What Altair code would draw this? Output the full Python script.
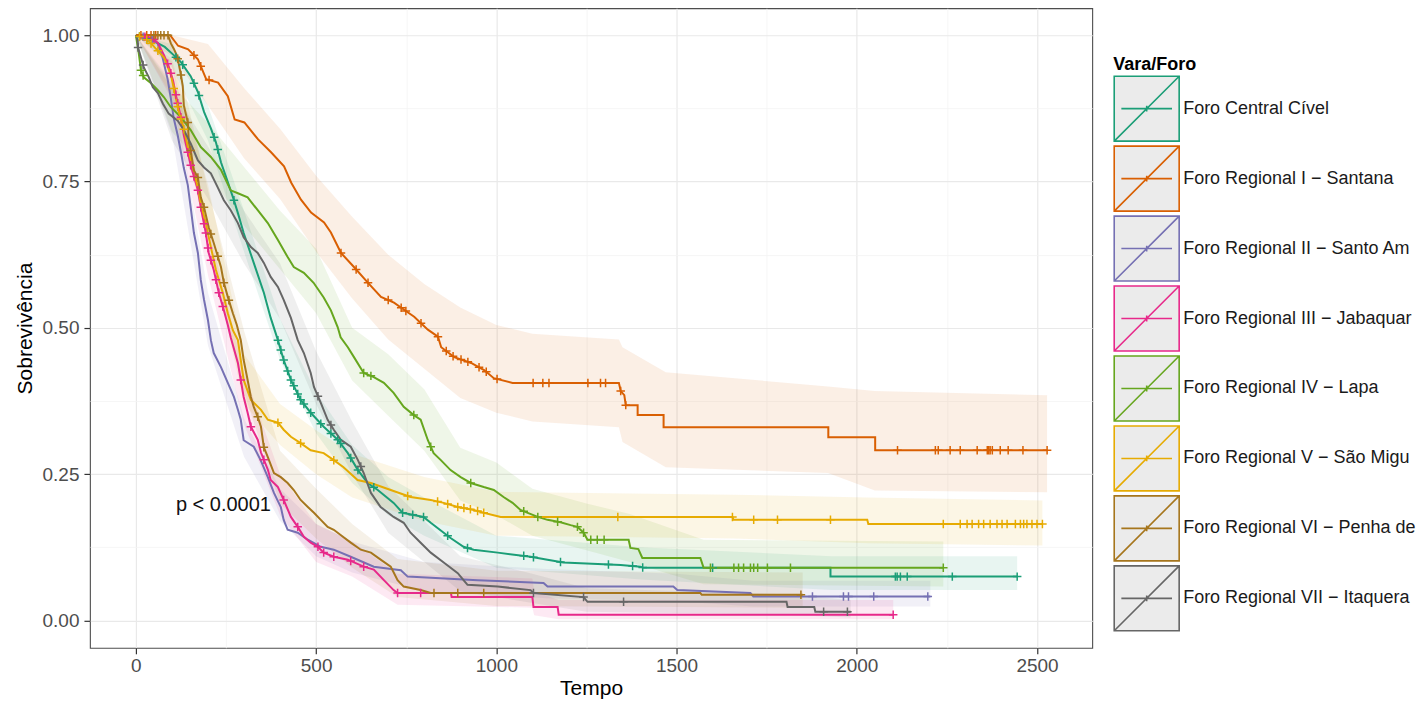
import altair as alt
import pandas as pd
import numpy as np

# ---------------- categories / colours ----------------
GROUPS = [
    "Foro Central Cível",
    "Foro Regional I − Santana",
    "Foro Regional II − Santo Amaro",
    "Foro Regional III − Jabaquara",
    "Foro Regional IV − Lapa",
    "Foro Regional V − São Miguel Paulista",
    "Foro Regional VI − Penha de França",
    "Foro Regional VII − Itaquera",
]
# legend text as visible in the reference (cut at the picture's right edge)
LEGEND_LABELS = [
    "Foro Central Cível",
    "Foro Regional I − Santana",
    "Foro Regional II − Santo Am",
    "Foro Regional III − Jabaquar",
    "Foro Regional IV − Lapa",
    "Foro Regional V − São Migu",
    "Foro Regional VI − Penha de",
    "Foro Regional VII − Itaquera",
]
COLORS = ["#1b9e77", "#d95f02", "#7570b3", "#e7298a", "#66a61e", "#e6ab02", "#a6761d", "#666666"]

X_TICKS = [0, 500, 1000, 1500, 2000, 2500]
X_MINOR = [250, 750, 1250, 1750, 2250]
Y_TICKS = [0.0, 0.25, 0.5, 0.75, 1.0]
Y_MINOR = [0.125, 0.375, 0.625, 0.875]

PVAL_TEXT = ["p < 0.0001"]
PVAL_X = [111]
PVAL_Y = [0.198]

# ---------------- survival curves (time, survival) ----------------
central_t = [0, 50, 80, 105, 125, 152, 172, 189, 208, 222, 236, 255, 272, 283, 299, 327, 355, 374, 394, 410, 430, 457, 485, 521, 560, 588, 616, 643, 671, 715, 740, 798, 818, 854, 873, 909, 937, 1004, 1095, 1142, 1186, 1345, 1400, 1408, 1927, 1927, 2445]
central_s = [1.0, 0.99, 0.98, 0.966, 0.954, 0.930, 0.903, 0.869, 0.841, 0.817, 0.783, 0.749, 0.718, 0.696, 0.662, 0.611, 0.560, 0.517, 0.479, 0.445, 0.411, 0.377, 0.355, 0.331, 0.309, 0.286, 0.257, 0.235, 0.223, 0.201, 0.184, 0.177, 0.167, 0.150, 0.141, 0.126, 0.121, 0.116, 0.109, 0.104, 0.099, 0.095, 0.092, 0.090, 0.090, 0.075, 0.075]

santana_t = [0, 95, 117, 145, 172, 195, 228, 255, 274, 301, 339, 375, 411, 431, 458, 486, 522, 541, 569, 605, 644, 680, 716, 744, 772, 810, 838, 847, 883, 930, 966, 993, 1045, 1340, 1345, 1355, 1359, 1392, 1392, 1464, 1464, 1921, 1921, 2051, 2051, 2528]
santana_s = [1.0, 1.0, 0.982, 0.976, 0.959, 0.925, 0.919, 0.896, 0.856, 0.851, 0.822, 0.800, 0.776, 0.748, 0.719, 0.697, 0.680, 0.663, 0.628, 0.604, 0.577, 0.553, 0.543, 0.531, 0.519, 0.497, 0.485, 0.467, 0.450, 0.440, 0.428, 0.414, 0.406, 0.406, 0.392, 0.385, 0.368, 0.368, 0.351, 0.351, 0.330, 0.330, 0.313, 0.313, 0.291, 0.291]

santo_amaro_t = [0, 40, 60, 74, 88, 97, 105, 116, 125, 133, 144, 152, 161, 172, 180, 189, 200, 208, 216, 236, 255, 272, 283, 291, 299, 327, 346, 366, 383, 402, 410, 421, 449, 477, 513, 549, 596, 660, 735, 754, 948, 1131, 1142, 1491, 1502, 1705, 1713, 2204]
santo_amaro_s = [1.0, 0.995, 0.986, 0.962, 0.925, 0.892, 0.858, 0.829, 0.800, 0.773, 0.744, 0.706, 0.662, 0.628, 0.582, 0.548, 0.513, 0.479, 0.457, 0.433, 0.406, 0.382, 0.360, 0.343, 0.308, 0.297, 0.274, 0.245, 0.218, 0.194, 0.172, 0.155, 0.150, 0.138, 0.126, 0.121, 0.109, 0.092, 0.086, 0.075, 0.069, 0.064, 0.058, 0.058, 0.052, 0.047, 0.041, 0.041]

jabaquara_t = [0, 45, 61, 78, 91, 103, 114, 125, 133, 144, 152, 172, 180, 194, 202, 216, 230, 244, 255, 263, 283, 291, 299, 310, 319, 338, 347, 366, 374, 394, 410, 430, 449, 466, 485, 505, 521, 549, 588, 632, 660, 688, 715, 726, 874, 876, 1100, 1103, 1170, 1173, 2101]
jabaquara_s = [1.0, 0.995, 0.987, 0.966, 0.947, 0.923, 0.889, 0.860, 0.829, 0.800, 0.778, 0.735, 0.706, 0.662, 0.628, 0.599, 0.560, 0.530, 0.505, 0.484, 0.440, 0.411, 0.382, 0.355, 0.331, 0.309, 0.287, 0.258, 0.240, 0.228, 0.206, 0.177, 0.160, 0.143, 0.133, 0.126, 0.116, 0.109, 0.104, 0.092, 0.087, 0.069, 0.052, 0.047, 0.047, 0.040, 0.040, 0.023, 0.023, 0.010, 0.010]

lapa_t = [0, 8, 14, 22, 42, 61, 78, 97, 125, 152, 180, 208, 236, 263, 283, 310, 338, 366, 394, 421, 438, 466, 493, 521, 541, 560, 568, 588, 605, 632, 660, 688, 715, 743, 771, 790, 810, 826, 846, 873, 901, 929, 965, 993, 1020, 1045, 1067, 1087, 1115, 1142, 1178, 1206, 1225, 1242, 1253, 1367, 1372, 1394, 1405, 1566, 1575, 2240]
lapa_s = [1.0, 0.969, 0.940, 0.928, 0.918, 0.906, 0.894, 0.877, 0.860, 0.838, 0.809, 0.792, 0.770, 0.735, 0.730, 0.723, 0.701, 0.679, 0.650, 0.621, 0.604, 0.594, 0.577, 0.552, 0.530, 0.501, 0.484, 0.467, 0.450, 0.423, 0.416, 0.406, 0.389, 0.365, 0.351, 0.343, 0.308, 0.286, 0.274, 0.257, 0.245, 0.235, 0.228, 0.223, 0.211, 0.201, 0.189, 0.184, 0.177, 0.172, 0.168, 0.163, 0.160, 0.150, 0.138, 0.138, 0.124, 0.122, 0.107, 0.107, 0.090, 0.090]

sao_miguel_t = [0, 25, 42, 78, 97, 111, 119, 130, 139, 147, 158, 172, 180, 194, 208, 222, 241, 255, 269, 283, 291, 299, 319, 347, 366, 394, 410, 430, 457, 485, 521, 549, 576, 615, 652, 707, 762, 818, 854, 893, 937, 965, 1012, 1655, 1658, 2029, 2032, 2515]
sao_miguel_s = [1.0, 0.995, 0.986, 0.962, 0.932, 0.892, 0.869, 0.847, 0.824, 0.800, 0.775, 0.740, 0.713, 0.679, 0.638, 0.599, 0.560, 0.525, 0.496, 0.479, 0.445, 0.411, 0.377, 0.360, 0.343, 0.338, 0.326, 0.314, 0.303, 0.291, 0.286, 0.274, 0.262, 0.240, 0.235, 0.223, 0.211, 0.206, 0.201, 0.194, 0.189, 0.184, 0.177, 0.177, 0.172, 0.172, 0.165, 0.165]

penha_t = [0, 89, 97, 105, 111, 116, 125, 130, 133, 144, 147, 152, 161, 172, 180, 189, 202, 216, 236, 244, 255, 269, 280, 291, 299, 310, 319, 327, 338, 347, 355, 366, 383, 402, 421, 438, 457, 477, 494, 513, 532, 549, 568, 596, 624, 652, 679, 707, 726, 743, 790, 818, 1566, 1570, 1850]
penha_s = [1.0, 1.0, 0.986, 0.977, 0.969, 0.960, 0.932, 0.913, 0.880, 0.851, 0.817, 0.803, 0.769, 0.757, 0.723, 0.706, 0.672, 0.645, 0.604, 0.577, 0.553, 0.525, 0.505, 0.479, 0.445, 0.411, 0.382, 0.365, 0.348, 0.331, 0.296, 0.279, 0.252, 0.245, 0.235, 0.223, 0.206, 0.194, 0.184, 0.172, 0.160, 0.155, 0.146, 0.133, 0.121, 0.116, 0.104, 0.092, 0.069, 0.058, 0.052, 0.047, 0.047, 0.044, 0.044]

itaquera_t = [0, 5, 6, 14, 22, 36, 47, 61, 75, 91, 116, 133, 152, 172, 189, 208, 227, 244, 263, 283, 299, 319, 338, 355, 374, 394, 410, 430, 449, 466, 485, 494, 513, 532, 549, 568, 596, 616, 632, 652, 679, 715, 743, 762, 790, 818, 854, 893, 909, 920, 1004, 1095, 1103, 1242, 1253, 1805, 1808, 1882, 1885, 1983]
itaquera_s = [1.0, 0.991, 0.979, 0.962, 0.945, 0.928, 0.911, 0.901, 0.883, 0.866, 0.854, 0.838, 0.815, 0.786, 0.774, 0.764, 0.740, 0.718, 0.701, 0.679, 0.655, 0.638, 0.628, 0.611, 0.587, 0.570, 0.548, 0.517, 0.479, 0.457, 0.423, 0.399, 0.372, 0.343, 0.326, 0.309, 0.297, 0.274, 0.252, 0.218, 0.194, 0.177, 0.167, 0.150, 0.133, 0.116, 0.099, 0.081, 0.069, 0.061, 0.058, 0.052, 0.047, 0.040, 0.032, 0.032, 0.023, 0.023, 0.015, 0.015]

# ---------------- censoring times ----------------
central_cens = [10, 30, 111, 130, 161, 175, 217, 227, 272, 394, 402, 410, 421, 430, 438, 449, 457, 466, 485, 513, 541, 560, 568, 596, 616, 660, 740, 768, 798, 865, 920, 1076, 1103, 1178, 1311, 1378, 1406, 1600, 2107, 2112, 2121, 2140, 2265, 2445]
santana_cens = [14, 30, 42, 55, 161, 180, 203, 569, 611, 644, 700, 736, 749, 791, 838, 861, 880, 902, 921, 952, 972, 1002, 1102, 1129, 1146, 1254, 1289, 1303, 1345, 1359, 2113, 2218, 2226, 2259, 2287, 2334, 2362, 2366, 2370, 2376, 2398, 2420, 2461, 2528]
santo_amaro_cens = [20, 45, 1877, 1963, 1977, 2047, 2197]
jabaquara_cens = [25, 50, 88, 97, 111, 116, 125, 144, 152, 161, 172, 180, 189, 194, 200, 208, 222, 230, 241, 291, 319, 355, 410, 449, 505, 521, 549, 596, 632, 726, 790, 2101]
lapa_cens = [14, 20, 632, 652, 771, 818, 929, 1076, 1115, 1170, 1225, 1242, 1262, 1280, 1299, 1594, 1659, 1672, 1686, 1705, 1714, 1725, 1752, 1816, 2240]
sao_miguel_cens = [10, 30, 42, 61, 105, 116, 125, 133, 394, 457, 549, 754, 837, 865, 893, 910, 928, 948, 965, 1337, 1655, 1714, 1780, 1927, 2240, 2287, 2306, 2320, 2338, 2352, 2370, 2389, 2403, 2417, 2440, 2454, 2463, 2472, 2486, 2500, 2515]
penha_cens = [50, 61, 69, 78, 89, 116, 125, 144, 152, 172, 189, 208, 227, 244, 258, 338, 355, 827, 893, 965, 1845]
itaquera_cens = [6, 20, 505, 541, 624, 1103, 1242, 1353, 1908, 1974]

# ---------------- confidence bands (time, lower, upper) ----------------
central_band_t = [0, 100, 200, 300, 400, 500, 600, 700, 800, 1000, 1400, 1930, 2445]
central_band_lo = [1.0, 0.945, 0.82, 0.63, 0.445, 0.32, 0.235, 0.18, 0.145, 0.09, 0.07, 0.052, 0.052]
central_band_hi = [1.0, 0.985, 0.88, 0.70, 0.515, 0.39, 0.30, 0.245, 0.21, 0.145, 0.125, 0.11, 0.11]

santana_band_t = [0, 100, 200, 300, 400, 500, 600, 700, 800, 900, 1000, 1100, 1340, 1350, 1470, 1920, 2050, 2528]
santana_band_lo = [1.0, 0.965, 0.88, 0.79, 0.72, 0.63, 0.55, 0.48, 0.43, 0.38, 0.355, 0.34, 0.33, 0.305, 0.262, 0.252, 0.222, 0.219]
santana_band_hi = [1.0, 1.0, 0.985, 0.91, 0.84, 0.76, 0.69, 0.625, 0.575, 0.535, 0.505, 0.49, 0.48, 0.467, 0.424, 0.40, 0.392, 0.385]

santo_amaro_band_t = [0, 100, 200, 300, 400, 500, 600, 800, 1140, 1500, 1713, 2204]
santo_amaro_band_lo = [1.0, 0.83, 0.47, 0.28, 0.17, 0.11, 0.082, 0.05, 0.038, 0.033, 0.024, 0.024]
santo_amaro_band_hi = [1.0, 0.92, 0.56, 0.345, 0.225, 0.165, 0.135, 0.10, 0.088, 0.08, 0.068, 0.068]

jabaquara_band_t = [0, 100, 200, 300, 400, 500, 600, 726, 1100, 1105, 1173, 2101]
jabaquara_band_lo = [1.0, 0.89, 0.59, 0.335, 0.18, 0.10, 0.075, 0.027, 0.022, 0.009, 0.002, 0.002]
jabaquara_band_hi = [1.0, 0.955, 0.675, 0.425, 0.25, 0.165, 0.135, 0.08, 0.072, 0.05, 0.035, 0.035]

lapa_band_t = [0, 100, 200, 300, 400, 500, 600, 700, 800, 900, 1000, 1100, 1250, 1370, 1575, 2240]
lapa_band_lo = [1.0, 0.835, 0.765, 0.675, 0.60, 0.525, 0.41, 0.35, 0.29, 0.205, 0.18, 0.145, 0.12, 0.10, 0.062, 0.058]
lapa_band_hi = [1.0, 0.915, 0.85, 0.775, 0.70, 0.635, 0.50, 0.455, 0.395, 0.295, 0.27, 0.225, 0.20, 0.182, 0.138, 0.135]

sao_miguel_band_t = [0, 100, 200, 300, 400, 500, 600, 800, 1000, 1660, 2030, 2515]
sao_miguel_band_lo = [1.0, 0.895, 0.655, 0.37, 0.30, 0.25, 0.21, 0.17, 0.145, 0.14, 0.132, 0.128]
sao_miguel_band_hi = [1.0, 0.96, 0.745, 0.455, 0.37, 0.325, 0.285, 0.245, 0.22, 0.215, 0.21, 0.205]

penha_band_t = [0, 100, 200, 300, 400, 500, 600, 726, 1000, 1850]
penha_band_lo = [1.0, 0.95, 0.635, 0.39, 0.20, 0.14, 0.09, 0.04, 0.025, 0.022]
penha_band_hi = [1.0, 1.0, 0.735, 0.495, 0.29, 0.225, 0.165, 0.105, 0.085, 0.082]

itaquera_band_t = [0, 100, 200, 300, 400, 500, 600, 700, 800, 900, 1100, 1250, 1800, 1983]
itaquera_band_lo = [1.0, 0.82, 0.72, 0.61, 0.515, 0.37, 0.25, 0.15, 0.10, 0.05, 0.03, 0.015, 0.01, 0.005]
itaquera_band_hi = [1.0, 0.91, 0.81, 0.70, 0.61, 0.46, 0.34, 0.23, 0.17, 0.11, 0.08, 0.055, 0.045, 0.035]

# ---------------- assemble tables ----------------
curves = [
    (central_t, central_s, central_cens, central_band_t, central_band_lo, central_band_hi),
    (santana_t, santana_s, santana_cens, santana_band_t, santana_band_lo, santana_band_hi),
    (santo_amaro_t, santo_amaro_s, santo_amaro_cens, santo_amaro_band_t, santo_amaro_band_lo, santo_amaro_band_hi),
    (jabaquara_t, jabaquara_s, jabaquara_cens, jabaquara_band_t, jabaquara_band_lo, jabaquara_band_hi),
    (lapa_t, lapa_s, lapa_cens, lapa_band_t, lapa_band_lo, lapa_band_hi),
    (sao_miguel_t, sao_miguel_s, sao_miguel_cens, sao_miguel_band_t, sao_miguel_band_lo, sao_miguel_band_hi),
    (penha_t, penha_s, penha_cens, penha_band_t, penha_band_lo, penha_band_hi),
    (itaquera_t, itaquera_s, itaquera_cens, itaquera_band_t, itaquera_band_lo, itaquera_band_hi),
]

line_rows, cens_rows, band_rows = [], [], []
for gi, (g, (tt, ss, cc, bt, blo, bhi)) in enumerate(zip(GROUPS, curves)):
    col = COLORS[gi]
    for i, (t, s) in enumerate(zip(tt, ss)):
        line_rows.append({"group": g, "gi": gi, "t": t, "s": s, "idx": i})
    for c in cc:
        cens_rows.append({"group": g, "gi": gi, "hex": col, "t": c, "s": float(np.interp(c, tt, ss))})
    for i, (t, lo, hi) in enumerate(zip(bt, blo, bhi)):
        band_rows.append({"group": g, "gi": gi, "hex": col, "t": t, "lo": lo, "hi": hi, "idx": i})

lines_df = pd.DataFrame(line_rows)
cens_df = pd.DataFrame(cens_rows)
band_df = pd.DataFrame(band_rows)
pval_df = pd.DataFrame({"label": PVAL_TEXT, "x": PVAL_X, "y": PVAL_Y})

# legend label expression built from the two lists
label_expr = ""
for full, shown in zip(GROUPS, LEGEND_LABELS):
    label_expr += f"datum.label === '{full}' ? '{shown}' : "
label_expr += "datum.label"

# ---------------- chart ----------------
FONT = "Liberation Sans"
x_scale = alt.Scale(domain=[-127.5, 2653.2], nice=False, zero=False)
y_scale = alt.Scale(domain=[-0.0466, 1.0461], nice=False, zero=False)
color_scale = alt.Scale(domain=GROUPS, range=COLORS)

LEGEND_SYMBOL = "M-1,-1H1V1H-1Z M-1,1L1,-1 M-0.78,0H0.78 M0,-0.09V0.09"
CROSS = "M-1,0H1M0,-1V1"

legend = alt.Legend(
    title="Vara/Foro", orient="none", legendX=1024, legendY=48,
    symbolType=LEGEND_SYMBOL, symbolSize=4225, symbolStrokeWidth=1.6,
    symbolFillColor="#ebebeb", symbolOpacity=1,
    labelFontSize=18, labelColor="#1a1a1a", labelFont=FONT, labelOffset=3, labelLimit=600,
    labelExpr=label_expr,
    titleFontSize=18, titleFontWeight="bold", titleColor="black", titleFont=FONT,
    titlePadding=1, rowPadding=-7.3,
)

minor_x_axis = alt.Axis(orient="top", values=X_MINOR, grid=True, gridColor="#f4f4f4", gridWidth=0.8,
                        labels=False, ticks=False, domain=False, title=None)
minor_y_axis = alt.Axis(orient="right", values=Y_MINOR, grid=True, gridColor="#f4f4f4", gridWidth=0.8,
                        labels=False, ticks=False, domain=False, title=None)

major_x_axis = alt.Axis(values=X_TICKS, format="d", grid=True, gridColor="#e9e9e9", gridWidth=1.2,
                        domain=False, tickColor="#333333", tickSize=6, tickWidth=1.2,
                        labelColor="#4d4d4d", labelFontSize=19, labelPadding=3, labelFont=FONT,
                        title="Tempo", titleFontSize=21, titleFontWeight="normal", titleColor="black",
                        titleFont=FONT, titlePadding=2)
major_y_axis = alt.Axis(values=Y_TICKS, format=".2f", grid=True, gridColor="#e9e9e9", gridWidth=1.2,
                        domain=False, tickColor="#333333", tickSize=6, tickWidth=1.2,
                        labelColor="#4d4d4d", labelFontSize=19, labelPadding=5, labelFont=FONT,
                        title="Sobrevivência", titleFontSize=21, titleFontWeight="normal", titleColor="black",
                        titleFont=FONT, titlePadding=7)

bands = alt.Chart(band_df).mark_area(fillOpacity=0.1, interpolate="linear").encode(
    x=alt.X("t:Q", scale=x_scale, axis=minor_x_axis),
    y=alt.Y("lo:Q", scale=y_scale, axis=minor_y_axis),
    y2="hi:Q",
    fill=alt.Fill("hex:N", scale=None),
    detail="group:N",
)

lines = alt.Chart(lines_df).mark_line(strokeWidth=2, interpolate="linear").encode(
    x=alt.X("t:Q", scale=x_scale, axis=major_x_axis),
    y=alt.Y("s:Q", scale=y_scale, axis=major_y_axis),
    color=alt.Color("group:N", scale=color_scale, legend=legend),
    order=alt.Order("idx:Q"),
)

points = alt.Chart(cens_df).mark_point(shape=CROSS, filled=False, size=72, strokeWidth=1.5, opacity=1).encode(
    x=alt.X("t:Q", scale=x_scale, axis=None),
    y=alt.Y("s:Q", scale=y_scale, axis=None),
    stroke=alt.Stroke("hex:N", scale=None),
    detail="group:N",
)

ptext = alt.Chart(pval_df).mark_text(align="left", baseline="middle", fontSize=20, font=FONT, color="#111111").encode(
    x=alt.X("x:Q", scale=x_scale, axis=None),
    y=alt.Y("y:Q", scale=y_scale, axis=None),
    text="label:N",
)

chart = (
    alt.layer(bands, lines, points, ptext)
    .resolve_axis(x="independent", y="independent")
    .properties(
        width=1003, height=640,
        padding={"left": 6, "top": 0, "right": 2, "bottom": 0},
        background="white",
    )
    .configure(font=FONT)
    .configure_view(stroke="#4d4d4d", strokeWidth=1.1)
)

chart.save("out.html", embed_options={"renderer": "svg", "actions": False})
